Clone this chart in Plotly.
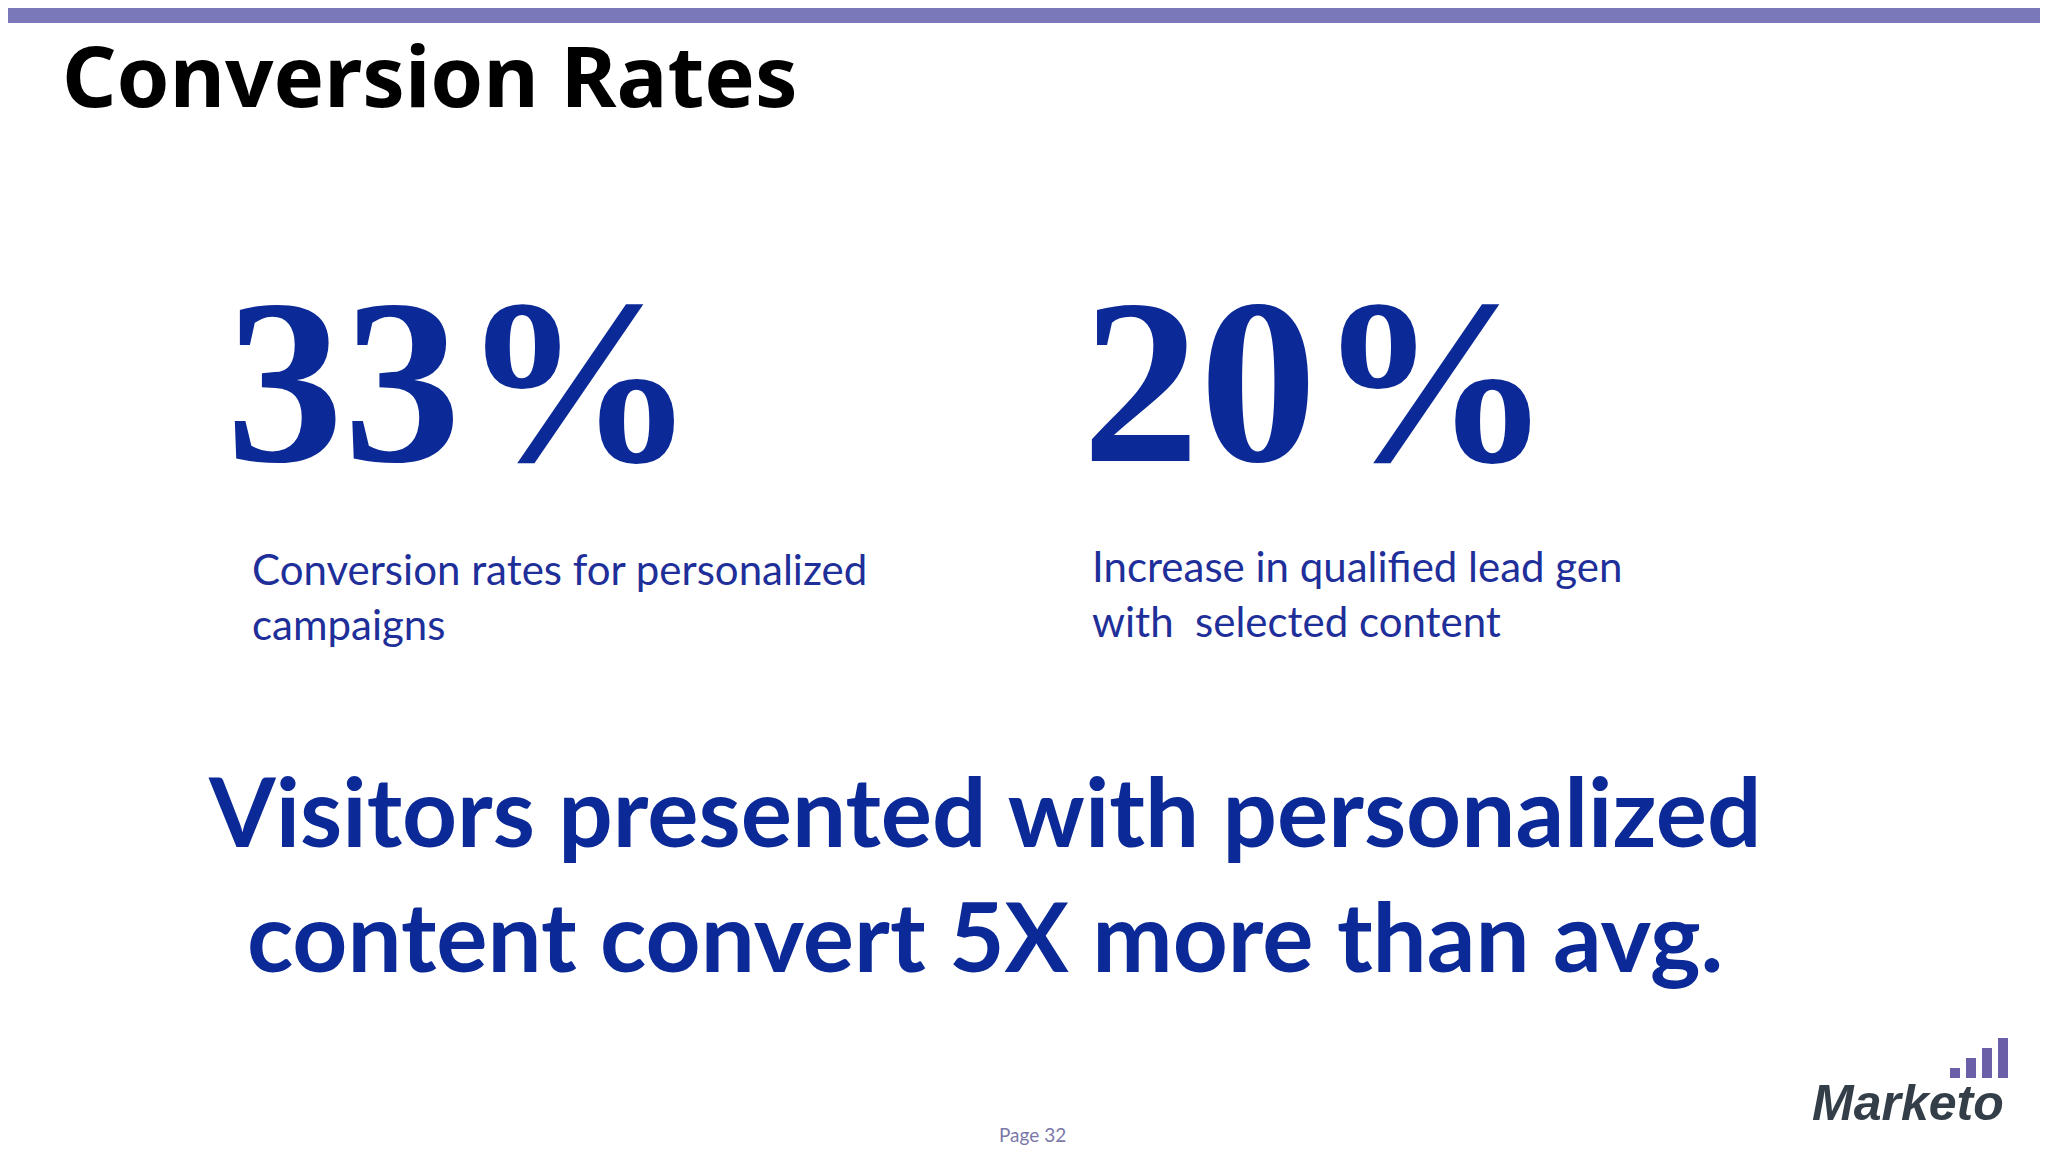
import plotly.graph_objects as go

W, H = 2048, 1152
title = "Conversion Rates"
stats = ["33%", "20%"]
stat_desc = ["Conversion rates for personalized<br>campaigns",
             "Increase in qualified lead gen<br>with  selected content"]
headline = "Visitors presented with personalized<br>content convert 5X more than avg."
page = "Page 32"
logo = "Marketo"
logo_bar_heights = [1, 2, 3, 4]

BLUE = "#0B2A97"
fig = go.Figure()
fig.update_layout(width=W, height=H, margin=dict(l=0, r=0, t=0, b=0),
                  paper_bgcolor="white", plot_bgcolor="white",
                  xaxis=dict(visible=False, range=[0, W]),
                  yaxis=dict(visible=False, range=[H, 0]))

def px(x, y):
    return x / W, 1 - y / H

shapes = [dict(type="rect", xref="paper", yref="paper", x0=0, x1=1, y0=1 - 15 / H, y1=1,
               fillcolor="#7B78BA", line=dict(width=0))]
for i, h in enumerate(logo_bar_heights):
    x0 = 1942 + i * 16
    shapes.append(dict(type="rect", xref="paper", yref="paper",
                       x0=x0 / W, x1=(x0 + 10) / W,
                       y0=1 - 1070 / H, y1=1 - (1070 - 10 * h) / H,
                       fillcolor="#6B5FA8", line=dict(width=0)))
fig.update_layout(shapes=shapes)

ann = []
def add(text, x, y, size, color, family, xanchor="left", align="left", bold=False, italic=False):
    t = f"<b>{text}</b>" if bold else text
    if italic:
        t = f"<i>{t}</i>"
    ax, ay = px(x, y)
    ann.append(dict(text=t, x=ax, y=ay, xref="paper", yref="paper", showarrow=False,
                    xanchor=xanchor, yanchor="middle", align=align,
                    font=dict(size=size, color=color, family=family)))

add(title, 52, 66, 85, "#000000", "Noto Sans", bold=True)
add(stats[0], 453, 374, 235, BLUE, "Liberation Serif", xanchor="center", bold=True)
add(stats[1], 1309, 374, 235, BLUE, "Liberation Serif", xanchor="center", bold=True)
add(stat_desc[0], 242, 588, 42, "#1F2F9A", "Lato")
add(stat_desc[1], 1082, 585, 42, "#1F2F9A", "Lato")
add(headline, 976, 864, 96, BLUE, "Lato", xanchor="center", align="center", bold=True)
add(page, 1024, 1126, 19, "#7B78A8", "Lato", xanchor="center")
add(logo, 1900, 1095, 50, "#333E48", "Liberation Sans", xanchor="center", bold=True, italic=True)
fig.update_layout(annotations=ann)

fig.write_html("out.html")
